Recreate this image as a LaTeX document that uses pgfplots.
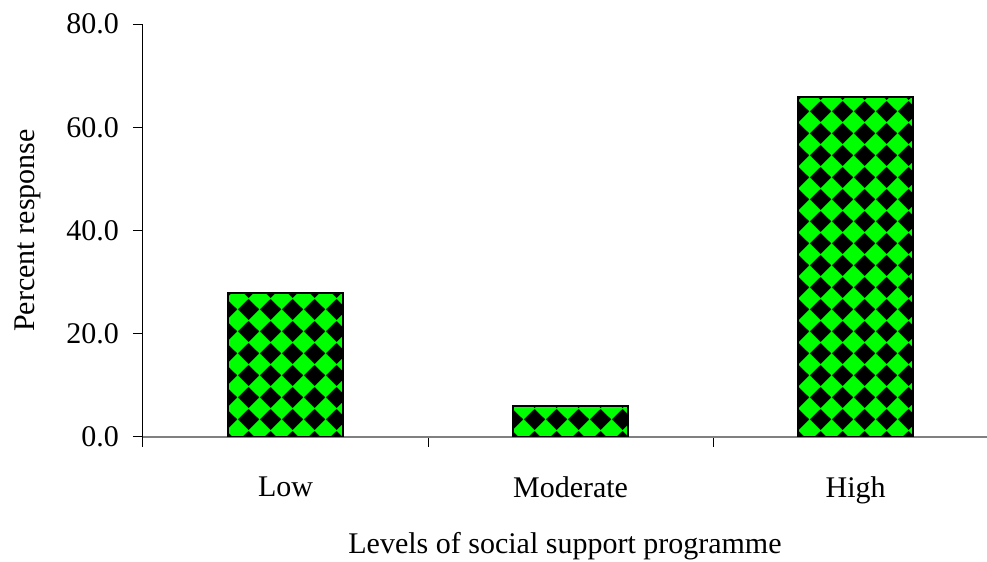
\documentclass[border=0pt]{standalone}
\usepackage{fontspec}
\setmainfont{Liberation Serif}
\usepackage{pgfplots}
\pgfplotsset{compat=1.18}
\usetikzlibrary{patterns}
\pgfdeclarepatternformonly{diamondcheck}{\pgfpointorigin}{\pgfpoint{10.8pt}{11pt}}{\pgfpoint{10.8pt}{11pt}}{
  \pgfpathmoveto{\pgfpoint{0pt}{5.5pt}}
  \pgfpathlineto{\pgfpoint{5.4pt}{0pt}}
  \pgfpathlineto{\pgfpoint{10.8pt}{5.5pt}}
  \pgfpathlineto{\pgfpoint{5.4pt}{11pt}}
  \pgfpathclose
  \pgfusepath{fill}
}
\begin{document}
\begin{tikzpicture}
\begin{axis}[
  width=422pt, height=206.5pt, scale only axis,
  xmin=-0.5, xmax=2.461, ymin=0, ymax=80,
  axis x line=bottom, axis y line=left, separate axis lines,
  x axis line style={-, draw=gray, line width=1pt},
  y axis line style={-, draw=black, line width=0.5pt},
  xtick={0,1,2}, xticklabels={Low,Moderate,High},
  minor xtick={-0.5,0.5,1.5},
  major x tick style={draw=none},
  minor x tick style={draw=black, line width=0.5pt},
  ytick={0,20,40,60,80},
  major y tick style={draw=black, line width=0.5pt},
  tick align=outside,
  major tick length=5pt, minor tick length=5pt,
  tick label style={font=\fontsize{15}{18}\selectfont},
  label style={font=\fontsize{15}{18}\selectfont},
  yticklabel style={xshift=-3.5pt, /pgf/number format/fixed, /pgf/number format/fixed zerofill, /pgf/number format/precision=1, /pgf/number format/assume math mode=true},
  xticklabel style={yshift=-11.5pt},
  xlabel={Levels of social support programme},
  ylabel={Percent response},
  xlabel style={at={(axis description cs:0.5,0)}, anchor=north, yshift=-44pt},
  ylabel style={at={(axis description cs:-0.1126,0.5)}, anchor=south},
]
\addplot[ybar, bar width=57.5pt, fill={rgb,255:red,0;green,255;blue,0}, draw=black, line width=1pt,
  postaction={pattern=diamondcheck, pattern color=black}]
  coordinates {(0,27.8) (1,6.1) (2,65.9)};
\coordinate (bl) at (axis cs:-0.5,0);
\end{axis}
\pgfresetboundingbox
\path[use as bounding box] ([xshift=-71.5pt,yshift=-62.5pt]bl) rectangle ([xshift=422pt,yshift=218.5pt]bl);
\end{tikzpicture}
\end{document}
